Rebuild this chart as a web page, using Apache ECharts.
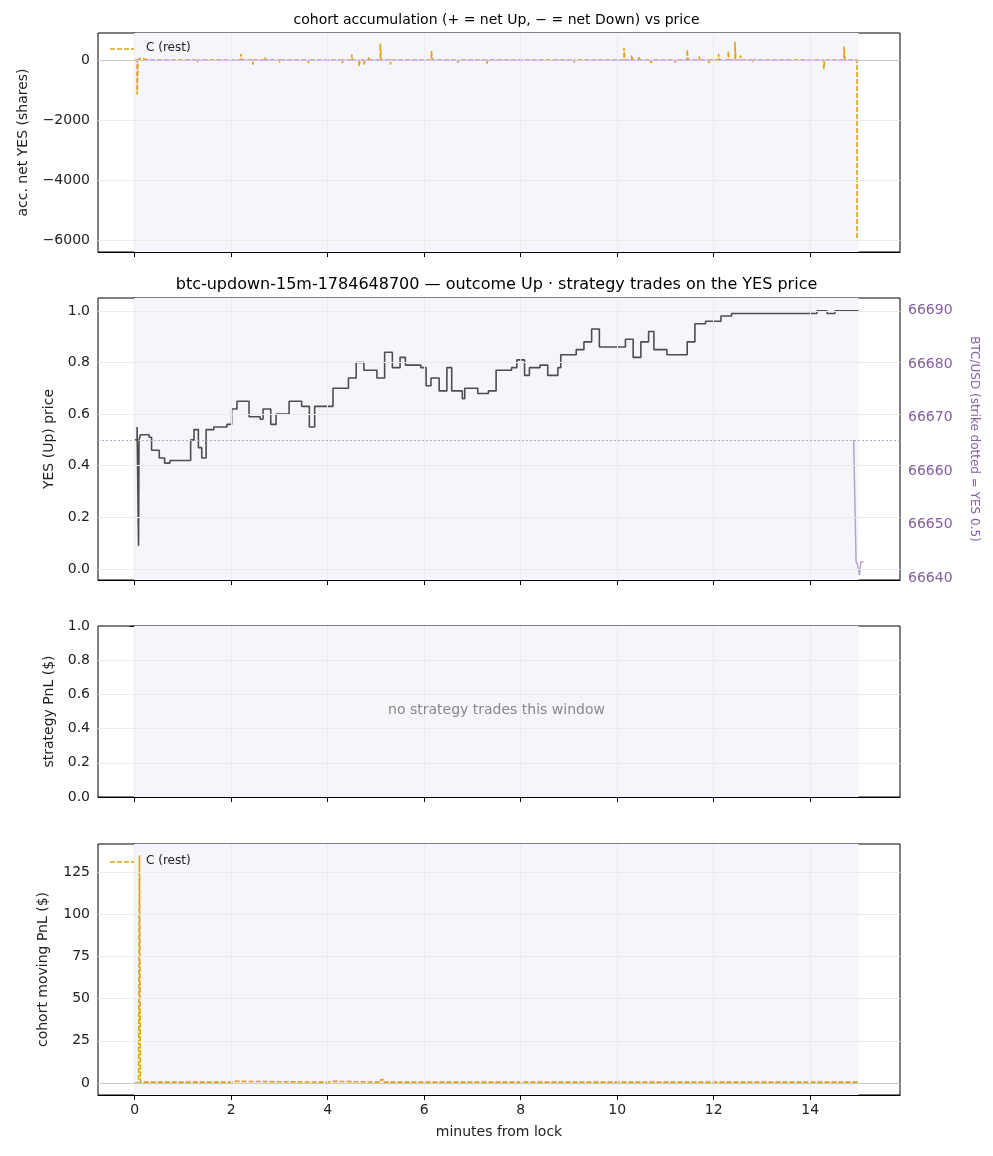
<!DOCTYPE html>
<html>
<head>
<meta charset="utf-8">
<script src="https://cdn.jsdelivr.net/npm/echarts@6/dist/echarts.min.js"></script>
<style>html,body{margin:0;padding:0;background:#fff}#main{width:993px;height:1156px}</style>
</head>
<body>
<div id="main"></div>
<script>
// 队列累计净持仓尖峰 (分钟, 股数)
var accTimes = [0.05,0.1,0.3,0.6,0.9,1.3,1.6,1.9,2.2,2.45,2.7,3.0,3.3,3.6,3.9,4.3,4.5,4.65,4.75,4.85,5.09,5.3,5.55,5.9,6.15,6.4,6.7,7.0,7.3,7.6,7.9,8.2,8.5,8.8,9.1,9.4,9.7,10.0,10.14,10.3,10.45,10.7,10.95,11.2,11.45,11.7,11.9,12.1,12.3,12.44,12.55,12.8,13.1,13.5,13.9,14.28,14.7];
var accValues = [-1150,60,40,-60,50,-70,60,40,200,-150,80,-80,60,-100,60,-100,180,-200,-150,100,550,-150,60,-60,300,60,-80,50,-120,60,-60,40,-50,60,-70,50,-60,60,400,150,120,-100,60,-80,350,120,-120,200,300,600,150,-80,60,-60,-40,-300,450];
var accEnd = [14.97, -6000];

// YES价格阶梯
var priceTimes = [0,0.05,0.08,0.09,0.12,0.30,0.35,0.51,0.62,0.73,1.10,1.16,1.23,1.32,1.39,1.48,1.64,1.91,2.01,2.12,2.28,2.37,2.60,2.66,2.82,2.93,3.20,3.46,3.62,3.73,4.00,4.11,4.43,4.59,4.75,5.02,5.18,5.34,5.50,5.61,5.93,6.04,6.14,6.31,6.47,6.57,6.79,6.84,7.11,7.33,7.49,7.81,7.92,8.08,8.18,8.40,8.56,8.77,8.83,9.15,9.31,9.47,9.63,9.90,10.17,10.33,10.49,10.65,10.76,11.03,11.29,11.45,11.61,11.83,12.15,12.37,14.08,14.14,14.35,14.51,15.0];
var priceValues = [0.5,0.55,0.09,0.5,0.52,0.51,0.46,0.43,0.41,0.42,0.42,0.5,0.54,0.47,0.43,0.54,0.55,0.56,0.62,0.65,0.65,0.59,0.58,0.62,0.56,0.6,0.65,0.63,0.55,0.63,0.63,0.7,0.74,0.8,0.77,0.74,0.84,0.78,0.82,0.79,0.78,0.71,0.74,0.69,0.78,0.69,0.66,0.7,0.68,0.69,0.77,0.78,0.81,0.75,0.78,0.79,0.75,0.78,0.83,0.85,0.88,0.93,0.86,0.86,0.89,0.82,0.88,0.92,0.85,0.83,0.83,0.88,0.95,0.96,0.98,0.99,0.99,1.0,0.99,1.0,1.0];

// BTC/USD 尾段
var btcTimes = [14.9,14.95,14.98,15.02,15.05,15.1];
var btcValues = [66665.8,66643,66642.5,66640.5,66643,66643];
var strike = 66665.8;

// 队列浮动盈亏
var pnlTimes = [0,0.08,0.1,0.12,2.0,2.1,4.0,4.1,5.1,5.15,6,15.0];
var pnlValues = [0,0,135,0.5,1,0.5,1,0.5,2,0.5,0.5,0.5];

// 刻度
var xTicks = [0,2,4,6,8,10,12,14];
var accTicks = [-6000,-4000,-2000,0];
var priceTicks = [0,0.2,0.4,0.6,0.8,1];
var btcTicks = [66640,66650,66660,66670,66680,66690];
var pnlTicks = [0,25,50,75,100,125];

var orange = '#e0a010';
var xMin = -0.76, xMax = 15.86;
var gridColor = '#ebebeb';

function pairs(xs, ys){ return xs.map(function(x,i){return [x, ys[i]];}); }

var accData = [[0,0]];
accTimes.forEach(function(t,i){ accData.push([t,0],[t,accValues[i]],[t+0.02,accValues[i]],[t+0.02,0]); });
accData.push([accEnd[0],0],[accEnd[0],accEnd[1]]);

//背景网格线 (竖线 + 横线)
function gridLines(yTicks, zero){
  var d = xTicks.map(function(v){return {xAxis:v};});
  yTicks.forEach(function(v){ d.push({yAxis:v, lineStyle:{color:(zero && v===0)?'#c8c8c8':gridColor}}); });
  return {silent:true,symbol:'none',label:{show:false},lineStyle:{color:gridColor,type:'solid',width:1},data:d};
}
var band = {silent:true,itemStyle:{color:'#f5f6fb'},data:[[{xAxis:0},{xAxis:15}]]};
var tickFont = {fontFamily:'DejaVu Sans',fontSize:14,color:'#222'};
var nameFont = {fontFamily:'DejaVu Sans',fontSize:14,color:'#222'};
var grids = [
  {left:98,right:93,top:33,height:219},
  {left:98,right:93,top:298,height:282},
  {left:98,right:93,top:626,height:171},
  {left:98,right:93,top:844,height:251}
];
function xAx(i){
  return {type:'value',gridIndex:i,min:xMin,max:xMax,
    axisLine:{onZero:false,lineStyle:{color:'#000'}},
    axisLabel:Object.assign({show:i===3,customValues:xTicks},tickFont),
    axisTick:{customValues:xTicks,length:5,lineStyle:{color:'#000'}},
    splitLine:{show:false},
    name:i===3?'minutes from lock':'',nameLocation:'middle',nameGap:30,nameTextStyle:nameFont};
}
function yAx(i,min,max,ticks,name,gap,fmt){
  return {type:'value',gridIndex:i,min:min,max:max,
    axisLine:{show:true,lineStyle:{color:'#000'}},
    axisTick:{show:true,customValues:ticks,length:5,lineStyle:{color:'#000'}},
    axisLabel:Object.assign({customValues:ticks,formatter:fmt},tickFont),
    splitLine:{show:false},name:name,nameLocation:'middle',nameGap:gap,nameTextStyle:nameFont};
}
var fmtMinus = function(v){return String(v).replace('-','\u2212');};
var fmt1 = function(v){return v.toFixed(1);};

var option = {
  animation:false,
  title:[
    {text:'cohort accumulation (+ = net Up, \u2212 = net Down) vs price',left:'center',top:8,textStyle:{fontFamily:'DejaVu Sans',fontSize:14,fontWeight:'normal',color:'#000'}},
    {text:'btc-updown-15m-1784648700 \u2014 outcome Up \u00b7 strategy trades on the YES price',left:'center',top:272,textStyle:{fontFamily:'DejaVu Sans',fontSize:16,fontWeight:'normal',color:'#000'}}
  ],
  grid:grids.map(function(g){return Object.assign({show:true,borderColor:'#000',borderWidth:1,backgroundColor:'#fff'},g);}),
  xAxis:[xAx(0),xAx(1),xAx(2),xAx(3),
    {type:'value',gridIndex:1,min:xMin,max:xMax,show:false}],
  yAxis:[
    yAx(0,-6400,900,accTicks,'acc. net YES (shares)',68,fmtMinus),
    yAx(1,-0.043,1.05,priceTicks,'YES (Up) price',42,fmt1),
    yAx(2,0,1,[0,0.2,0.4,0.6,0.8,1],'strategy PnL ($)',42,fmt1),
    yAx(3,-7.1,141.6,pnlTicks,'cohort moving PnL ($)',48,null),
    {type:'value',gridIndex:1,position:'right',min:66639.6,max:66692.4,
      axisLine:{show:true,lineStyle:{color:'#000'}},axisTick:{show:true,customValues:btcTicks,length:5,lineStyle:{color:'#8060a0'}},
      axisLabel:{fontFamily:'DejaVu Sans',fontSize:14,color:'#8060a0',customValues:btcTicks,formatter:function(v){return String(v);}},
      splitLine:{show:false},name:'BTC/USD (strike dotted = YES 0.5)',nameLocation:'middle',nameGap:68,nameRotate:-90,
      nameTextStyle:{fontFamily:'DejaVu Sans',fontSize:12,color:'#8060a0'}}
  ],
  series:[
    {type:'line',xAxisIndex:0,yAxisIndex:0,data:accData,showSymbol:false,lineStyle:{color:orange,width:1.6,type:[5,2]},
      markArea:band,markLine:gridLines(accTicks,true)},
    {type:'line',xAxisIndex:1,yAxisIndex:1,step:'end',data:pairs(priceTimes,priceValues),showSymbol:false,lineStyle:{color:'#4d4d4d',width:1.6},
      markArea:band,markLine:gridLines(priceTicks,false)},
    {type:'line',xAxisIndex:4,yAxisIndex:4,data:pairs(btcTimes,btcValues),showSymbol:false,lineStyle:{color:'#b2a3d3',width:1.5},
      markLine:{silent:true,symbol:'none',label:{show:false},lineStyle:{color:'#b0a8c8',type:[2,2],width:1},data:[{yAxis:strike}]}},
    {type:'line',xAxisIndex:2,yAxisIndex:2,data:[],markArea:band,markLine:gridLines([0.2,0.4,0.6,0.8],false)},
    {type:'line',xAxisIndex:3,yAxisIndex:3,step:'end',data:pairs(pnlTimes,pnlValues),showSymbol:false,lineStyle:{color:orange,width:1.6,type:[5,2]},
      markArea:band,markLine:gridLines(pnlTicks,true)}
  ],
  graphic:[
    {type:'text',z:100,left:'center',top:703,style:{text:'no strategy trades this window',fontFamily:'DejaVu Sans',fontSize:14,fill:'#888'}},
    {type:'line',z:100,shape:{x1:110,y1:49,x2:134,y2:49},style:{stroke:orange,lineWidth:1.6,lineDash:[5,2]}},
    {type:'text',z:100,x:146,y:42,style:{text:'C (rest)',fontFamily:'DejaVu Sans',fontSize:12,fill:'#222'}},
    {type:'line',z:100,shape:{x1:110,y1:862,x2:134,y2:862},style:{stroke:orange,lineWidth:1.6,lineDash:[5,2]}},
    {type:'text',z:100,x:146,y:855,style:{text:'C (rest)',fontFamily:'DejaVu Sans',fontSize:12,fill:'#222'}}
  ]
};
echarts.init(document.getElementById('main')).setOption(option);
</script>
</body>
</html>
